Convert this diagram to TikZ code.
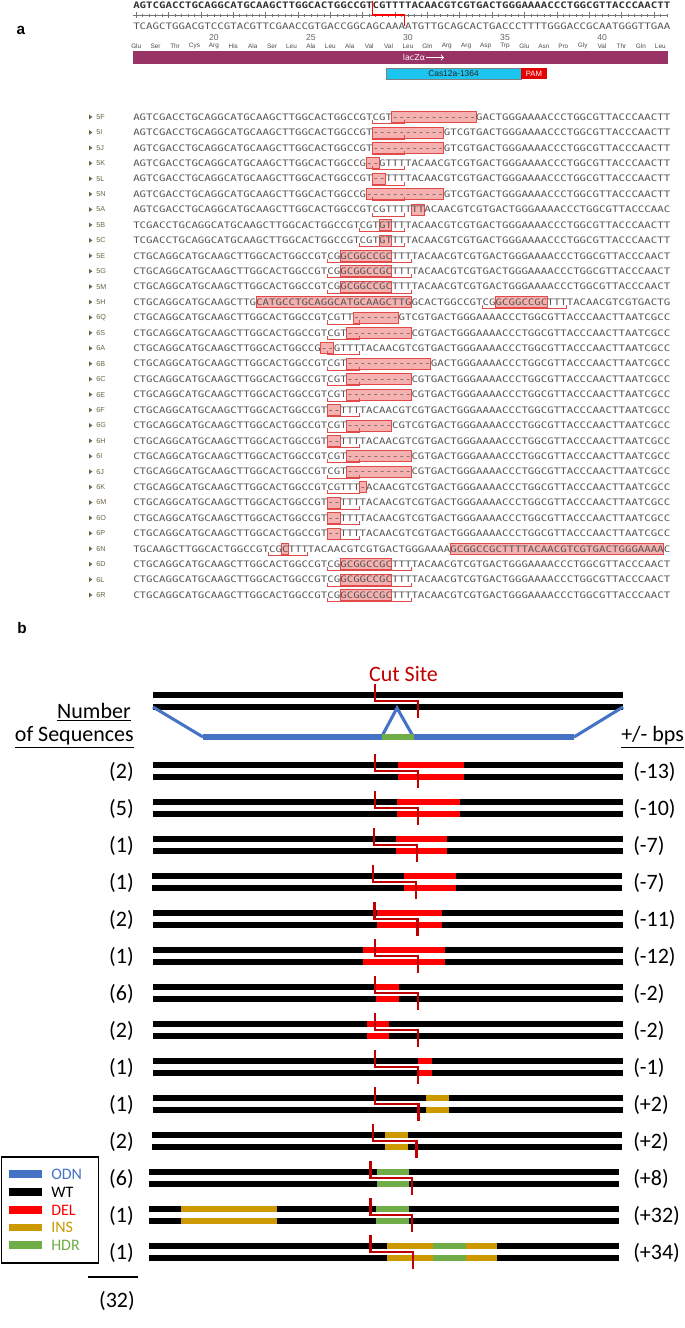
\documentclass[tikz,border=0pt]{standalone}
\usepackage{fontspec}
\usepackage{graphicx}
\setmainfont{Carlito}
\setmonofont{DejaVu Sans Mono}
\newfontfamily\arialf{Liberation Sans}
\newfontfamily\djvf{DejaVu Sans}
\definecolor{seqgray}{HTML}{555555}
\definecolor{hdrgray}{HTML}{333333}
\definecolor{hlfill}{HTML}{F5B0B0}
\definecolor{hldraw}{HTML}{E24A4A}
\definecolor{laczc}{HTML}{993366}
\definecolor{casc}{HTML}{1CC4F0}
\definecolor{odnc}{HTML}{4472C4}
\definecolor{delc}{HTML}{FF0000}
\definecolor{insc}{HTML}{CC9900}
\definecolor{hdrc}{HTML}{70AD47}
\definecolor{cutc}{HTML}{C00000}
\definecolor{labc}{HTML}{6B6545}
\newcommand\cw{6.47}
\newcommand\xo{133}
\newcommand\sqtext[1]{\scalebox{1.205}[1]{\ttfamily\fontsize{6.69}{8}\selectfont #1}}
\def\qF{AGTCGACCTGCAGGCATGCAAGCTTGGCACTGGCCGTCGT-------------GACTGGGAAAACCCTGGCGTTACCCAACTT}
\def\qI{AGTCGACCTGCAGGCATGCAAGCTTGGCACTGGCCGT-----------GTCGTGACTGGGAAAACCCTGGCGTTACCCAACTT}
\def\qK{AGTCGACCTGCAGGCATGCAAGCTTGGCACTGGCCG--GTTTTACAACGTCGTGACTGGGAAAACCCTGGCGTTACCCAACTT}
\def\qL{AGTCGACCTGCAGGCATGCAAGCTTGGCACTGGCCGT--TTTTACAACGTCGTGACTGGGAAAACCCTGGCGTTACCCAACTT}
\def\qN{AGTCGACCTGCAGGCATGCAAGCTTGGCACTGGCCG------------GTCGTGACTGGGAAAACCCTGGCGTTACCCAACTT}
\def\qA{AGTCGACCTGCAGGCATGCAAGCTTGGCACTGGCCGTCGTTTTTTACAACGTCGTGACTGGGAAAACCCTGGCGTTACCCAAC}
\def\qB{TCGACCTGCAGGCATGCAAGCTTGGCACTGGCCGTCGTGTTTTACAACGTCGTGACTGGGAAAACCCTGGCGTTACCCAACTT}
\def\qE{CTGCAGGCATGCAAGCTTGGCACTGGCCGTCGGCGGCCGCTTTTACAACGTCGTGACTGGGAAAACCCTGGCGTTACCCAACT}
\def\qH{CTGCAGGCATGCAAGCTTGCATGCCTGCAGGCATGCAAGCTTGGCACTGGCCGTCGGCGGCCGCTTTTACAACGTCGTGACTG}
\def\qQ{CTGCAGGCATGCAAGCTTGGCACTGGCCGTCGTT-------GTCGTGACTGGGAAAACCCTGGCGTTACCCAACTTAATCGCC}
\def\qS{CTGCAGGCATGCAAGCTTGGCACTGGCCGTCGT----------CGTGACTGGGAAAACCCTGGCGTTACCCAACTTAATCGCC}
\def\qa{CTGCAGGCATGCAAGCTTGGCACTGGCCG--GTTTTACAACGTCGTGACTGGGAAAACCCTGGCGTTACCCAACTTAATCGCC}
\def\qb{CTGCAGGCATGCAAGCTTGGCACTGGCCGTCGT-------------GACTGGGAAAACCCTGGCGTTACCCAACTTAATCGCC}
\def\qf{CTGCAGGCATGCAAGCTTGGCACTGGCCGT--TTTTACAACGTCGTGACTGGGAAAACCCTGGCGTTACCCAACTTAATCGCC}
\def\qg{CTGCAGGCATGCAAGCTTGGCACTGGCCGTCGT-------CGTCGTGACTGGGAAAACCCTGGCGTTACCCAACTTAATCGCC}
\def\qk{CTGCAGGCATGCAAGCTTGGCACTGGCCGTCGTTT-ACAACGTCGTGACTGGGAAAACCCTGGCGTTACCCAACTTAATCGCC}
\def\qn{TGCAAGCTTGGCACTGGCCGTCGCTTTTACAACGTCGTGACTGGGAAAAGCGGCCGCTTTTACAACGTCGTGACTGGGAAAAC}
% panel a helpers
\newcommand\hlbox[3]{\pgfmathsetmacro\ry{117+15.42*#1}\draw[hlstyle] ({\xo+(#2-1)*\cw},\ry-5.5) rectangle ({\xo+#3*\cw},\ry+5.5);}
\newcommand\ulbr[3]{\pgfmathsetmacro\ry{117+15.42*#1}\draw[ulstyle] ({\xo+#2*\cw},\ry+3) -- ({\xo+#2*\cw},\ry+6.5) -- ({\xo+#3*\cw},\ry+6.5) -- ({\xo+#3*\cw},\ry+3);}
\newcommand\srow[3]{\pgfmathsetmacro\ry{117+15.42*#1}%
  \node[seqnode] (s#2) at (\xo,\ry) {\sqtext{#3}};%
  \node[rowlab] (l#2) at (96,\ry) {#2};%
  \fill[labc] (89,\ry-2.4) -- (92.4,\ry) -- (89,\ry+2.4) -- cycle;}
% panel b helpers
\newcommand\bpair[3]{\fill[black] (#2,#1-8.75) rectangle (#3,#1-3.25); \fill[black] (#2,#1+3.25) rectangle (#3,#1+8.75);}
\newcommand\bseg[4]{\fill[#4] (#2,#1-8.75) rectangle (#3,#1-3.25); \fill[#4] (#2,#1+3.25) rectangle (#3,#1+8.75);}
\newcommand\bcut[3]{\draw[cutline] (#2,#1-17) -- (#2,#1) -- (#3,#1) -- (#3,#1+17);}
\newcommand\blab[4]{\node[cntlab] (c#1) at (134,#2+1) {#3}; \node[bpslab] (p#1) at (633,#2+1) {#4};}
\begin{document}
\begin{tikzpicture}[x=0.75pt,y=-0.75pt,
  seqnode/.style={anchor=west,inner sep=0pt,text=seqgray},
  rowlab/.style={anchor=west,inner sep=0pt,text=labc,font=\arialf\fontsize{5.4}{6}\selectfont},
  hlstyle/.style={fill=hlfill,draw=hldraw,line width=0.5pt},
  ulstyle/.style={draw=hldraw,line width=0.6pt},
  aalab/.style={inner sep=0pt,text=black!70,font=\arialf\fontsize{4.8}{5}\selectfont},
  numlab/.style={inner sep=0pt,text=black!60,font=\arialf\fontsize{6.5}{7}\selectfont},
  tick/.style={draw=black!55,line width=0.4pt},
  cutline/.style={draw=cutc,line width=1.9pt},
  cntlab/.style={anchor=east,inner sep=0pt,font=\fontsize{16.5}{18}\selectfont},
  bpslab/.style={anchor=west,inner sep=0pt,font=\fontsize{16.5}{18}\selectfont},
  legtxt/.style={anchor=west,inner sep=0pt,font=\fontsize{12}{13}\selectfont},
  panlab/.style={inner sep=0pt,font=\arialf\bfseries\fontsize{11.5}{12}\selectfont}]
\useasboundingbox (0,0) rectangle (685,1328);
\fill[white] (0,0) rectangle (685,1328);
% ---------------- panel a ----------------
\node[panlab] (pa) at (21,30) {a};
\node[seqnode,text=hdrgray] (hdrtop) at (\xo,5) {\sqtext{\bfseries AGTCGACCTGCAGGCATGCAAGCTTGGCACTGGCCGTCGTTTTACAACGTCGTGACTGGGAAAACCCTGGCGTTACCCAACTT}};
\draw[tick] (\xo,15) -- (668,15);
\foreach \k in {1,...,83}{\pgfmathtruncatemacro\m{mod(\k,5)}\ifnum\m=1 \draw[tick] ({\xo+(\k-0.5)*\cw},12) -- ++(0,6);\else \draw[tick] ({\xo+(\k-0.5)*\cw},13.5) -- ++(0,3);\fi}
\node[seqnode] (hdrbot) at (\xo,26) {\sqtext{TCAGCTGGACGTCCGTACGTTCGAACCGTGACCGGCAGCAAAATGTTGCAGCACTGACCCTTTTGGGACCGCAATGGGTTGAA}};
\draw[draw=red,line width=0.8pt] ({\xo+37*\cw},1) -- ({\xo+37*\cw},15) -- ({\xo+42*\cw},15) -- ({\xo+42*\cw},26);
\foreach \n/\i in {20/4,25/9,30/14,35/19,40/24}{\node[numlab] (num\n) at ({\xo+(3*\i+0.5)*\cw},38) {\n};}
\foreach \aa [count=\i from 0] in {Glu,Ser,Thr,Cys,Arg,His,Ala,Ser,Leu,Ala,Leu,Ala,Val,Val,Leu,Gln,Arg,Arg,Asp,Trp,Glu,Asn,Pro,Gly,Val,Thr,Gln,Leu}{\node[aalab] (aa\i) at ({\xo+(3*\i+0.5)*\cw},46) {\aa};}
\fill[laczc] (\xo,50.5) rectangle (668,64);
\node[inner sep=0pt,text=white,font=\djvf\fontsize{6}{7}\selectfont] (lacz) at (414,57.5) {lacZα};
\draw[white,line width=0.7pt,->] (426,57.5) -- (444,57.5);
\draw[fill=casc,draw=black!50,line width=0.3pt] (386,68) rectangle (521,79);
\node[inner sep=0pt,text=black!85,font=\arialf\fontsize{6.3}{7}\selectfont] (cas) at (453.5,73.5) {Cas12a-1364};
\fill[red!90!black] (521,68) rectangle (547,79);
\node[inner sep=0pt,text=white,font=\arialf\fontsize{5.8}{7}\selectfont] (pam) at (534,73.5) {PAM};
% highlights
\hlbox{0}{41}{53} \hlbox{1}{38}{48} \hlbox{2}{38}{48} \hlbox{3}{37}{38} \hlbox{4}{38}{39}
\hlbox{5}{37}{48} \hlbox{6}{44}{45} \hlbox{7}{39}{40} \hlbox{8}{39}{40}
\hlbox{9}{33}{40} \hlbox{10}{33}{40} \hlbox{11}{33}{40}
\hlbox{12}{20}{43} \hlbox{12}{57}{64}
\hlbox{13}{35}{41} \hlbox{14}{34}{43} \hlbox{15}{30}{31} \hlbox{16}{34}{46}
\hlbox{17}{34}{43} \hlbox{18}{34}{43} \hlbox{19}{31}{32} \hlbox{20}{34}{40}
\hlbox{21}{31}{32} \hlbox{22}{34}{43} \hlbox{23}{34}{43} \hlbox{24}{36}{36}
\hlbox{25}{31}{32} \hlbox{26}{31}{32} \hlbox{27}{31}{32}
\hlbox{28}{24}{24} \hlbox{28}{50}{82}
\hlbox{29}{33}{40} \hlbox{30}{33}{40} \hlbox{31}{33}{40}
% rows
\srow{0}{5F}{\qF} \srow{1}{5I}{\qI} \srow{2}{5J}{\qI} \srow{3}{5K}{\qK}
\srow{4}{5L}{\qL} \srow{5}{5N}{\qN} \srow{6}{5A}{\qA} \srow{7}{5B}{\qB}
\srow{8}{5C}{\qB} \srow{9}{5E}{\qE} \srow{10}{5G}{\qE} \srow{11}{5M}{\qE}
\srow{12}{5H}{\qH} \srow{13}{6Q}{\qQ} \srow{14}{6S}{\qS} \srow{15}{6A}{\qa}
\srow{16}{6B}{\qb} \srow{17}{6C}{\qS} \srow{18}{6E}{\qS} \srow{19}{6F}{\qf}
\srow{20}{6G}{\qg} \srow{21}{6H}{\qf} \srow{22}{6I}{\qS} \srow{23}{6J}{\qS}
\srow{24}{6K}{\qk} \srow{25}{6M}{\qf} \srow{26}{6O}{\qf} \srow{27}{6P}{\qf}
\srow{28}{6N}{\qn} \srow{29}{6D}{\qE} \srow{30}{6L}{\qE} \srow{31}{6R}{\qE}
% underline brackets
\foreach \r in {0,1,2,3,4,5,6}{\ulbr{\r}{37}{42}}
\foreach \r in {7,8}{\ulbr{\r}{35}{42}}
\foreach \r in {9,10,11,29,30,31}{\ulbr{\r}{30}{43}}
\ulbr{12}{54}{67}
\foreach \r in {13,14,15,16,17,18,19,20,21,22,23,24,25,26,27}{\ulbr{\r}{30}{35}}
\ulbr{28}{21}{27}
% ---------------- panel b ----------------
\node[panlab] (pb) at (22,628) {b};
\node[inner sep=0pt,text=cutc,font=\fontsize{16.5}{18}\selectfont] (cutsite) at (403.5,674) {Cut Site};
\bpair{701}{153}{623}
\draw[odnc,line width=2.3pt] (153,707) -- (203,737);
\draw[odnc,line width=2.3pt] (623,707) -- (574,737);
\draw[odnc,line width=2.3pt] (381.5,737) -- (397,708) -- (413.5,737);
\draw[odnc,line width=4.2pt] (203,737) -- (574,737);
\draw[hdrc,line width=4.2pt] (381.5,737) -- (413.5,737);
\bcut{701}{375}{418}
\node[inner sep=0pt,anchor=east,font=\fontsize{16.5}{18}\selectfont] (hnum) at (131,712) {\underline{Number}};
\node[inner sep=0pt,anchor=east,font=\fontsize{16.5}{18}\selectfont] (hseq) at (134,737) {\underline{of Sequences}};
\node[inner sep=0pt,anchor=west,font=\fontsize{16.5}{18}\selectfont] (hbps) at (621,737) {\underline{+/- bps}};
% rows
\bpair{771}{153}{623} \bseg{771}{397.6}{464.2}{delc} \bcut{771}{375}{418} \blab{0}{771}{(2)}{(-13)}
\bpair{808}{153}{623} \bseg{808}{397}{459.5}{delc} \bcut{808}{375}{418} \blab{1}{808}{(5)}{(-10)}
\bpair{845}{153}{623} \bseg{845}{396}{447.4}{delc} \bcut{845}{374}{417} \blab{2}{845}{(1)}{(-7)}
\bpair{882}{152}{622} \bseg{882}{404.3}{455.5}{delc} \bcut{882}{373}{416} \blab{3}{882}{(1)}{(-7)}
\bpair{919}{153}{623} \bseg{919}{376.5}{442}{delc} \bcut{919}{374.5}{417.6} \blab{4}{919}{(2)}{(-11)}
\bpair{956}{153}{623} \bseg{956}{363}{445}{delc} \bcut{956}{375}{418} \blab{5}{956}{(1)}{(-12)}
\bpair{993}{153}{623} \bseg{993}{376}{399}{delc} \bcut{993}{375}{418} \blab{6}{993}{(6)}{(-2)}
\bpair{1030}{153}{623} \bseg{1030}{367}{389}{delc} \bcut{1030}{375}{418} \blab{7}{1030}{(2)}{(-2)}
\bpair{1067}{153}{623} \bseg{1067}{418}{432}{delc} \bcut{1067}{375}{418} \blab{8}{1067}{(1)}{(-1)}
\bpair{1104}{153}{623} \bseg{1104}{426.3}{449}{insc} \bcut{1104}{375}{418.5} \blab{9}{1104}{(1)}{(+2)}
\bpair{1141}{151.7}{621.7} \bseg{1141}{385}{407.6}{insc} \bcut{1141}{372.8}{416.3} \blab{10}{1141}{(2)}{(+2)}
\bpair{1178}{148.6}{618.6} \bseg{1178}{377}{409}{hdrc} \bcut{1178}{370.6}{412} \blab{11}{1178}{(6)}{(+8)}
\bpair{1215}{148.6}{618.6} \bseg{1215}{181}{277}{insc} \bseg{1215}{376}{409}{hdrc} \bcut{1215}{370.6}{412} \blab{12}{1215}{(1)}{(+32)}
\bpair{1252}{148.6}{618.6} \bseg{1252}{387}{433}{insc} \bseg{1252}{433}{466}{hdrc} \bseg{1252}{466}{497}{insc} \bcut{1252}{370.6}{413} \blab{13}{1252}{(1)}{(+34)}
% total
\draw[black,line width=0.8pt] (87.7,1277) -- (137.8,1277);
\node[inner sep=0pt,font=\fontsize{16.5}{18}\selectfont] (total) at (117,1301) {(32)};
% legend
\draw[black,line width=0.9pt] (1.3,1157) rectangle (98.8,1263);
\draw[odnc,line width=5.5pt] (8.7,1174) -- (42.2,1174); \node[legtxt,text=odnc] (lg1) at (51,1174) {ODN};
\draw[black,line width=5.5pt] (8.7,1192) -- (42.2,1192); \node[legtxt,text=black] (lg2) at (51,1192) {WT};
\draw[delc,line width=5.5pt] (8.7,1210) -- (42.2,1210); \node[legtxt,text=delc] (lg3) at (51,1210) {DEL};
\draw[insc,line width=5.5pt] (8.7,1227.5) -- (42.2,1227.5); \node[legtxt,text=insc] (lg4) at (51,1227.5) {INS};
\draw[hdrc,line width=5.5pt] (8.7,1245) -- (42.2,1245); \node[legtxt,text=hdrc] (lg5) at (51,1245) {HDR};
\end{tikzpicture}
\end{document}
